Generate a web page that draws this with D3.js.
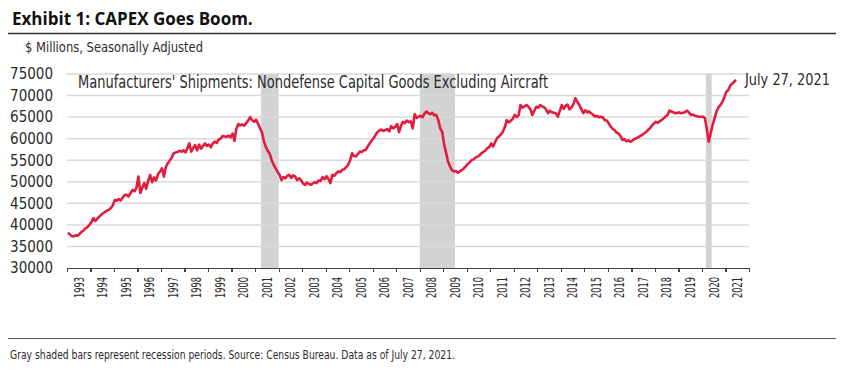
<!DOCTYPE html>
<html>
<head>
    <script src="https://cdn.jsdelivr.net/npm/d3@7/dist/d3.min.js"></script>
    <style type="text/css">
        body { margin: 0; background: #fff; }
        text { fill: #2b2b2b; font-family: "DejaVu Sans Condensed", "Open Sans", sans-serif; }
        .title { font-family: "Open Sans", "Liberation Sans", sans-serif; font-weight: bold; font-size: 17px; fill: #111; }
        .grid line { stroke: #d9d9d9; stroke-width: 1.5; }
        .axis path, .axis line { stroke: #444; stroke-width: 1.2; shape-rendering: crispEdges; }
        .axis text { font-size: 15px; }
        .year { font-size: 14px; }
        .recession { fill: #d3d3d3; }
        .series { fill: none; stroke: #e31b3c; stroke-width: 2.6; stroke-linejoin: round; }
    </style>
</head>
<body>
<svg id="chart"></svg>
<script>
    // monthly shipments, $ millions SA, Jan 1993 .. Jun 2021
    var startYear = 1993;
    var shipments = [
        38200, 37800, 37400, 37300, 37600, 37500, 37900, 38400, 38700, 39200, 39500, 40000,
        40600, 41600, 40900, 41400, 41900, 42300, 42700, 43000, 43300, 43500, 43900, 44600,
        45800, 45600, 46000, 45700, 46300, 46900, 47000, 46600, 47400, 48100, 47800, 48600,
        51200, 47400, 48600, 49700, 48400, 50200, 51600, 49900, 51000, 50300, 51800, 52400,
        53100, 51200, 53400, 54300, 54900, 55600, 56600, 56800, 56900, 57200, 57000, 57300,
        56800, 57800, 58900, 57000, 57900, 58500, 57300, 58600, 57700, 58300, 58900, 58300,
        58600, 58000, 58900, 59300, 59000, 59800, 60000, 60600, 60500, 60400, 60700, 60300,
        61200, 59500, 62300, 63400, 63100, 63300, 63000, 63600, 64200, 65000, 64300, 63900,
        64400, 63500, 62500, 61600, 59500, 58100, 57200, 56500, 55000, 54000, 53100, 52300,
        51600, 50400, 51100, 50800, 51400, 51600, 50900, 51500, 51200, 50400, 50800, 50400,
        49600, 49300, 49800, 49500, 49300, 49600, 49900, 49700, 50300, 50200, 51100, 50600,
        51300, 50600, 49700, 51600, 51400, 52000, 52400, 52200, 52800, 52900, 53400, 53900,
        55000, 56600, 56000, 55900, 56400, 57000, 56900, 57300, 57400, 58200, 58900, 59500,
        60100, 60900, 61500, 61900, 62100, 61800, 62000, 62200, 61700, 62900, 62400, 62700,
        63400, 61500, 62900, 63900, 63600, 64200, 63800, 64000, 62400, 65700, 64800, 65100,
        65300, 65000, 65800, 66300, 65900, 65700, 66000, 65400, 65500, 64300, 62400, 61600,
        58600, 56600, 54700, 53600, 52700, 52400, 52500, 52100, 52400, 52700, 53100, 53600,
        54100, 54500, 55000, 55200, 55600, 55800, 56100, 56600, 56900, 57200, 57800, 58000,
        58900, 58200, 59100, 60100, 60500, 61000, 61600, 62700, 64300, 63800, 64100, 64600,
        65500, 65000, 65400, 67800, 67200, 67500, 67800, 67400, 66800, 65500, 66500, 67400,
        67200, 67800, 67500, 67300, 66800, 65900, 66500, 66100, 66000, 65900, 65100, 66400,
        67800, 66900, 67600, 67900, 66800, 67200, 68000, 69400, 68500, 67800, 66900, 65900,
        66600, 66100, 66300, 65900, 65600, 65100, 65300, 65000, 65100, 64900, 64300, 64200,
        63500, 62800, 62300, 62000, 61400, 61200, 60600, 59700, 59900, 59400, 59600, 59300,
        59500, 59900, 60100, 60300, 60600, 60900, 61200, 61500, 62000, 62400, 63000, 63500,
        63900, 63700, 64000, 64300, 64700, 65100, 65500, 66500, 66300, 66100, 65900, 66000,
        66100, 65900, 66000, 66200, 66500, 66100, 65500, 65600, 65300, 65200, 65100, 65100,
        65100, 64800, 62400, 59300, 61200, 63200, 64700, 66300, 67300, 67800, 68600, 69600,
        70900, 71300, 72300, 72800, 73200, 73600
    ];
    var years = d3.range(1993, 2022);
    var yTicks = [30000, 35000, 40000, 45000, 50000, 55000, 60000, 65000, 70000, 75000];
    var recessionStarts = ["2001-04-01", "2008-01-01", "2020-03-01"];
    var recessionEnds = ["2002-01-01", "2009-07-01", "2020-06-01"];

    var W = 841, H = 377;
    var margin = { top: 74, left: 67, bottom: 109, right: 92 },
        width = W - margin.left - margin.right,
        height = H - margin.top - margin.bottom;

    var root = d3.select("#chart").attr("width", W).attr("height", H);

    // squeeze text to the narrow face of the original
    function narrow(sel, len) {
        sel.attr("textLength", len).attr("lengthAdjust", "spacingAndGlyphs");
    }

    root.append("text").attr("class", "title")
        .attr("x", 12).attr("y", 25)
        .text("Exhibit 1: CAPEX Goes Boom.");
    root.append("line").attr("x1", 8).attr("x2", 836).attr("y1", 33.5).attr("y2", 33.5)
        .attr("stroke", "#333").attr("stroke-width", 1.5);
    root.append("text").attr("x", 25).attr("y", 52).style("font-size", "14px")
        .text("$ Millions, Seasonally Adjusted").call(narrow, 178);

    var svg = root.append("g")
        .attr("transform", "translate(" + margin.left + "," + margin.top + ")");

    var parse = d3.timeParse("%Y-%m-%d");
    var x = d3.scaleTime()
        .domain([new Date(1993, 0, 1), new Date(2022, 0, 1)])
        .range([0, width]);
    var y = d3.scaleLinear()
        .domain([30000, 75000])
        .range([height, 0]);

    // recession bars
    svg.selectAll(".recession")
        .data(recessionStarts)
        .enter().append("rect")
        .attr("class", "recession")
        .attr("x", function (d) { return x(parse(d)); })
        .attr("y", 0)
        .attr("width", function (d, i) { return x(parse(recessionEnds[i])) - x(parse(d)); })
        .attr("height", height);

    // gridlines
    svg.append("g").attr("class", "grid")
        .selectAll("line")
        .data(yTicks.slice(1))
        .enter().append("line")
        .attr("x1", 0).attr("x2", width)
        .attr("y1", function (d) { return y(d); })
        .attr("y2", function (d) { return y(d); });

    var yAxis = d3.axisLeft(y).tickValues(yTicks).tickSize(0).tickPadding(14)
        .tickFormat(d3.format("d"));
    svg.append("g").attr("class", "axis").call(yAxis)
        .call(function (g) { g.select(".domain").remove(); });

    var xAxis = d3.axisBottom(x)
        .tickValues(years.concat([2022]).map(function (yr) { return new Date(yr, 0, 1); }))
        .tickSize(4).tickSizeOuter(0).tickFormat("");
    svg.append("g").attr("class", "axis")
        .attr("transform", "translate(0," + height + ")")
        .call(xAxis);

    svg.selectAll(".year")
        .data(years)
        .enter().append("text")
        .attr("class", "year")
        .attr("text-anchor", "end")
        .attr("dy", "0.35em")
        .attr("transform", function (d) {
            return "translate(" + x(new Date(d, 6, 1)) + "," + (height + 9) + ") rotate(-90)";
        })
        .text(function (d) { return d; })
        .call(narrow, 21);

    var line = d3.line()
        .x(function (d, i) { return x(new Date(startYear, i, 15)); })
        .y(function (d) { return y(d); });
    svg.append("path").datum(shipments).attr("class", "series").attr("d", line);

    svg.append("text").attr("x", 11).attr("y", 14).style("font-size", "17px")
        .text("Manufacturers' Shipments: Nondefense Capital Goods Excluding Aircraft")
        .call(narrow, 470);
    svg.append("text").attr("x", width - 4).attr("y", 11).style("font-size", "15px")
        .text("July 27, 2021").call(narrow, 85);

    root.append("line").attr("x1", 8).attr("x2", 836).attr("y1", 338.5).attr("y2", 338.5)
        .attr("stroke", "#555").attr("stroke-width", 1.2);
    root.append("text").attr("x", 10).attr("y", 359).style("font-size", "12.5px")
        .text("Gray shaded bars represent recession periods. Source: Census Bureau. Data as of July 27, 2021.")
        .call(narrow, 445);
</script>
</body>
</html>
